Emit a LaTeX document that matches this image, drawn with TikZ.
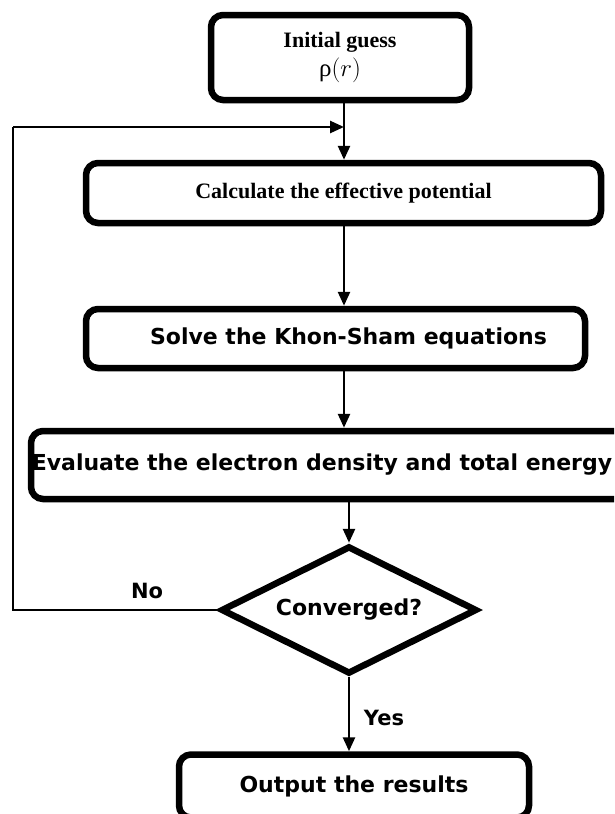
\documentclass[tikz,border=0pt]{standalone}
\usepackage{fontspec}
\setmainfont{Liberation Serif}
\newfontfamily\dvs{DejaVu Sans}
\usetikzlibrary{arrows.meta,shapes.geometric}
\begin{document}
\begin{tikzpicture}[x=1pt,y=-1pt,
  box/.style={draw=black,line width=6.5pt,rounded corners=12pt,fill=white,inner sep=0pt,align=center},
  arr/.style={line width=2.6pt,-{Triangle[length=14pt,width=12pt]}},
  ln/.style={line width=2.6pt},
  serifb/.style={font=\fontsize{22}{24}\selectfont\bfseries},
  sansb/.style={font=\dvs\fontsize{22}{25}\selectfont\bfseries},
  lbl/.style={font=\dvs\fontsize{21}{24}\selectfont\bfseries}]
\useasboundingbox (0,0) rectangle (614,814);
\clip (0,0) rectangle (614,814);
\node[box,serifb,minimum width=258pt,minimum height=85pt] (init) at (340,57.5) {Initial guess\\[5pt] {\fontsize{25}{27}\selectfont\mdseries ρ$(r)$}};
\node[box,serifb,minimum width=515pt,minimum height=60pt] (calc) at (343.5,193) {Calculate the effective potential};
\node[box,sansb,minimum width=499pt,minimum height=59pt] (solve) at (335.5,338.5) {\hspace*{26pt}Solve the Khon-Sham equations};
\node[box,sansb,minimum width=600pt,minimum height=68pt] (eval) at (331,465) {Evaluate the electron density and total energy\hspace*{18pt}};
\node[draw=black,line width=6.5pt,shape=diamond,minimum width=256pt,minimum height=128pt,inner sep=0pt,fill=white] (conv) at (349,610) {};
\node[sansb] at (349,610) {Converged?};
\node[box,sansb,minimum width=350pt,minimum height=63pt] (out) at (354,786) {Output the results};
\coordinate (fb) at (13,127);
\coordinate (join) at (344,127);
\draw[arr] (init.south -| join) -- (calc.north -| join);
\draw[arr] (calc.south -| join) -- (solve.north -| join);
\draw[arr] (solve.south -| join) -- (eval.north -| join);
\draw[arr] (eval.south -| conv.north) -- (conv.north);
\draw[arr] (conv.south) -- (out.north -| conv.south);
\draw[ln] (conv.west) -- (conv.west -| fb) -- (fb);
\draw[arr] (fb) -- (join);
\node[lbl] at (147,591) {No};
\node[lbl] at (384,718) {Yes};
\end{tikzpicture}
\end{document}
